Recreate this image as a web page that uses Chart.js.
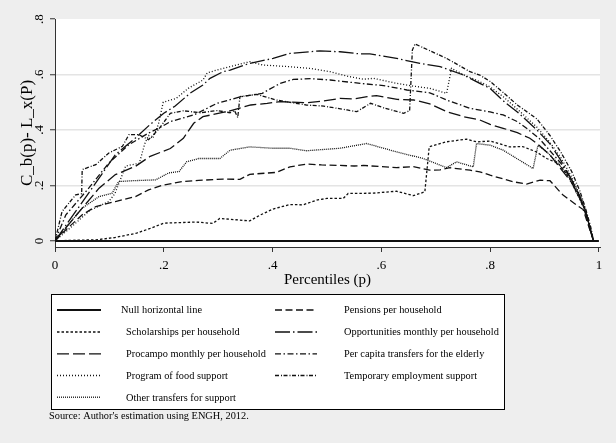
<!DOCTYPE html>
<html><head><meta charset="utf-8">
<script src="https://cdn.jsdelivr.net/npm/chart.js@4.4.1/dist/chart.umd.min.js"></script>
<style>html,body{margin:0;padding:0;background:#eeeeee;}#wrap{width:616px;height:443px;}canvas{display:block;}</style>
</head><body><div id="wrap"><canvas id="c" width="616" height="443"></canvas></div>
<script>
// ---------------- data ----------------
const xTicks = [0, 0.2, 0.4, 0.6, 0.8, 1];
const xTickLabels = ['0', '.2', '.4', '.6', '.8', '1'];
const yTicks = [0, 0.2, 0.4, 0.6, 0.8];
const yTickLabels = ['0', '.2', '.4', '.6', '.8'];
const xTitle = 'Percentiles (p)';
const yTitle = 'C_b(p)- L_x(P)';
const sourceNote = "Source: Author's estimation using ENGH, 2012.";

const seriesNames = [
  'Null horizontal line', 'Pensions per household', 'Scholarships per household',
  'Opportunities monthly per household', 'Procampo monthly per household',
  'Per capita transfers for the elderly', 'Program of food support',
  'Temporary employment support', 'Other transfers for support'
];

// [percentile, C_b(p) - L_x(p)]
const nullLine = [[0, 0], [1, 0]];
const pensions = [[0,0],[0.02,0.04],[0.05,0.094],[0.075,0.124],[0.111,0.142],[0.148,0.16],[0.172,0.184],[0.197,0.2],[0.234,0.214],[0.264,0.218],[0.309,0.223],[0.34,0.222],[0.358,0.24],[0.407,0.247],[0.432,0.267],[0.462,0.277],[0.49,0.274],[0.524,0.272],[0.55,0.27],[0.567,0.272],[0.628,0.264],[0.659,0.268],[0.689,0.255],[0.708,0.256],[0.726,0.264],[0.763,0.255],[0.781,0.249],[0.80,0.237],[0.843,0.213],[0.867,0.205],[0.892,0.219],[0.91,0.217],[0.934,0.165],[0.955,0.135],[0.971,0.113],[0.99,0]];
const scholarships = [[0,0],[0.03,0.002],[0.075,0.004],[0.11,0.012],[0.15,0.028],[0.175,0.045],[0.2,0.064],[0.26,0.068],[0.29,0.063],[0.303,0.081],[0.358,0.072],[0.377,0.093],[0.401,0.115],[0.432,0.131],[0.456,0.13],[0.481,0.147],[0.50,0.153],[0.53,0.153],[0.539,0.171],[0.585,0.172],[0.628,0.179],[0.659,0.163],[0.68,0.177],[0.688,0.339],[0.719,0.357],[0.757,0.367],[0.775,0.357],[0.80,0.36],[0.836,0.339],[0.86,0.34],[0.885,0.321],[0.904,0.297],[0.925,0.28],[0.945,0.23],[0.96,0.17],[0.975,0.11],[0.99,0]];
const opportunities = [[0,0],[0.038,0.106],[0.081,0.226],[0.111,0.311],[0.148,0.371],[0.175,0.42],[0.2,0.46],[0.221,0.486],[0.248,0.532],[0.272,0.562],[0.285,0.586],[0.309,0.61],[0.322,0.616],[0.358,0.64],[0.401,0.658],[0.432,0.676],[0.487,0.685],[0.524,0.682],[0.561,0.674],[0.579,0.674],[0.628,0.658],[0.671,0.64],[0.708,0.628],[0.751,0.598],[0.781,0.568],[0.80,0.55],[0.824,0.505],[0.85,0.465],[0.886,0.40],[0.91,0.35],[0.93,0.29],[0.95,0.22],[0.965,0.16],[0.975,0.11],[0.99,0]];
const procampo = [[0,0],[0.05,0.118],[0.081,0.19],[0.111,0.239],[0.148,0.269],[0.175,0.305],[0.212,0.333],[0.236,0.37],[0.255,0.424],[0.272,0.448],[0.316,0.466],[0.36,0.49],[0.39,0.496],[0.414,0.502],[0.463,0.498],[0.493,0.504],[0.524,0.514],[0.55,0.512],[0.574,0.52],[0.591,0.524],[0.629,0.51],[0.66,0.508],[0.689,0.494],[0.72,0.466],[0.751,0.448],[0.781,0.436],[0.80,0.42],[0.824,0.406],[0.85,0.39],[0.873,0.37],[0.89,0.345],[0.91,0.31],[0.93,0.26],[0.95,0.21],[0.965,0.155],[0.975,0.10],[0.99,0]];
const elderly = [[0,0],[0.02,0.094],[0.062,0.19],[0.099,0.281],[0.136,0.347],[0.172,0.389],[0.19,0.405],[0.212,0.43],[0.255,0.454],[0.298,0.496],[0.342,0.52],[0.381,0.532],[0.414,0.568],[0.438,0.582],[0.47,0.585],[0.506,0.58],[0.561,0.568],[0.604,0.56],[0.647,0.544],[0.689,0.534],[0.72,0.508],[0.763,0.478],[0.80,0.465],[0.824,0.454],[0.85,0.43],[0.867,0.406],[0.89,0.37],[0.91,0.325],[0.93,0.28],[0.95,0.22],[0.965,0.16],[0.975,0.11],[0.99,0]];
const foodSupport = [[0,0],[0.03,0.05],[0.064,0.11],[0.099,0.142],[0.11,0.17],[0.118,0.21],[0.13,0.27],[0.155,0.28],[0.165,0.35],[0.172,0.38],[0.18,0.37],[0.19,0.42],[0.199,0.5],[0.223,0.514],[0.245,0.55],[0.272,0.58],[0.28,0.606],[0.309,0.622],[0.358,0.646],[0.383,0.634],[0.432,0.628],[0.469,0.622],[0.506,0.61],[0.542,0.592],[0.567,0.583],[0.586,0.586],[0.628,0.568],[0.659,0.558],[0.689,0.55],[0.72,0.532],[0.729,0.622],[0.75,0.60],[0.781,0.574],[0.80,0.555],[0.824,0.52],[0.85,0.475],[0.886,0.41],[0.91,0.355],[0.93,0.30],[0.95,0.23],[0.965,0.165],[0.975,0.115],[0.99,0]];
const temporaryEmployment = [[0,0],[0.013,0.106],[0.038,0.166],[0.049,0.17],[0.05,0.257],[0.075,0.275],[0.099,0.317],[0.124,0.341],[0.136,0.383],[0.154,0.383],[0.172,0.365],[0.19,0.401],[0.212,0.46],[0.236,0.469],[0.267,0.462],[0.298,0.47],[0.322,0.462],[0.33,0.47],[0.336,0.445],[0.34,0.52],[0.371,0.528],[0.407,0.508],[0.462,0.49],[0.494,0.486],[0.537,0.472],[0.555,0.466],[0.58,0.496],[0.604,0.48],[0.641,0.46],[0.652,0.47],[0.657,0.688],[0.662,0.71],[0.72,0.658],[0.763,0.61],[0.781,0.598],[0.80,0.575],[0.824,0.535],[0.85,0.49],[0.886,0.44],[0.91,0.38],[0.93,0.32],[0.95,0.25],[0.965,0.18],[0.975,0.12],[0.985,0.05],[0.99,0]];
const otherTransfers = [[0,0],[0.025,0.06],[0.05,0.118],[0.081,0.16],[0.105,0.172],[0.117,0.214],[0.142,0.217],[0.185,0.22],[0.209,0.245],[0.228,0.25],[0.242,0.285],[0.264,0.297],[0.303,0.297],[0.322,0.327],[0.358,0.339],[0.4,0.334],[0.432,0.334],[0.462,0.325],[0.524,0.334],[0.573,0.351],[0.628,0.321],[0.677,0.297],[0.72,0.264],[0.738,0.285],[0.769,0.267],[0.775,0.351],[0.80,0.345],[0.824,0.327],[0.879,0.261],[0.888,0.345],[0.904,0.321],[0.925,0.28],[0.945,0.23],[0.96,0.17],[0.975,0.11],[0.99,0]];

// ---------------- styles ----------------
const FONT = '"Liberation Serif", "Times New Roman", serif';
const INK = '#111111';
const seriesData = [nullLine, pensions, scholarships, opportunities, procampo, elderly, foodSupport, temporaryEmployment, otherTransfers];
const seriesDash = [[], [7, 3.5], [2.5, 2], [15, 3, 1.5, 3], [12, 4], [6, 2.5, 1.5, 2.5], [1, 2], [4, 2, 1, 1.5], [1, 1]];
const seriesWidth = [2, 1.3, 1.3, 1.3, 1.3, 1.3, 1.3, 1.3, 1.3];

const datasets = seriesData.map((arr, i) => ({
  label: seriesNames[i],
  data: arr.map(([x, y]) => ({ x, y })),
  borderColor: INK,
  borderWidth: seriesWidth[i],
  borderDash: seriesDash[i],
  pointRadius: 0,
  fill: false,
  tension: 0
}));

// legend slots: [dataset index, column, row]
const legendSlots = [[0,0,0],[2,0,1],[4,0,2],[6,0,3],[8,0,4],[1,1,0],[3,1,1],[5,1,2],[7,1,3]];

function narrowText(ctx, text, x, y, sx) {
  ctx.save();
  ctx.translate(x, y);
  ctx.scale(sx, 1);
  ctx.fillText(text, 0, 0);
  ctx.restore();
}

const framePlugin = {
  id: 'frame',
  beforeDraw(chart) {
    const { ctx, chartArea: a } = chart;
    ctx.save();
    ctx.fillStyle = '#eeeeee';
    ctx.fillRect(0, 0, chart.width, chart.height);
    ctx.fillStyle = '#ffffff';
    ctx.fillRect(a.left, a.top, a.right - a.left, a.bottom - a.top);
    ctx.restore();
  },
  afterDraw(chart) {
    const { ctx } = chart;
    ctx.save();
    const bx = 51.5, by = 294.5, bw = 453, bh = 115;
    ctx.fillStyle = '#ffffff';
    ctx.fillRect(bx, by, bw, bh);
    ctx.strokeStyle = '#000';
    ctx.lineWidth = 1;
    ctx.setLineDash([]);
    ctx.strokeRect(bx, by, bw, bh);
    const rowY = [310, 332, 353.8, 375.5, 397.2];
    const colSample = [[57, 101], [275, 317]];
    const colText = [126, 344];
    ctx.font = '11px ' + FONT;
    ctx.fillStyle = '#000';
    ctx.textBaseline = 'middle';
    ctx.textAlign = 'left';
    legendSlots.forEach(([di, col, row]) => {
      const ds = chart.data.datasets[di];
      const y = rowY[row];
      ctx.beginPath();
      ctx.setLineDash(ds.borderDash);
      ctx.lineWidth = ds.borderWidth;
      ctx.strokeStyle = INK;
      ctx.moveTo(colSample[col][0], y);
      ctx.lineTo(colSample[col][1], y);
      ctx.stroke();
      ctx.setLineDash([]);
      const tx = (di === 0) ? 121 : colText[col];
      narrowText(ctx, ds.label, tx, y + 0.5, 0.94);
    });
    ctx.font = '11px ' + FONT;
    narrowText(ctx, sourceNote, 49, 416, 0.94);
    ctx.restore();
  }
};

new Chart(document.getElementById('c'), {
  type: 'line',
  data: { datasets },
  plugins: [framePlugin],
  options: {
    responsive: false,
    animation: false,
    devicePixelRatio: 1,
    layout: { padding: { left: 0, top: 19, right: 16, bottom: 150 } },
    plugins: { legend: { display: false }, tooltip: { enabled: false } },
    scales: {
      x: {
        type: 'linear', min: 0, max: 1.002,
        afterBuildTicks: s => { s.ticks = xTicks.map(v => ({ value: v })); },
        afterFit: s => { s.height = 46; },
        grid: { drawOnChartArea: false, drawTicks: true, tickLength: 5, tickColor: '#333', tickWidth: 1 },
        border: { display: true, color: '#333', width: 1 },
        ticks: { callback: (v, i) => xTickLabels[i], padding: 6, color: '#000', font: { family: FONT, size: 13 }, maxRotation: 0 },
        title: { display: true, text: xTitle, color: '#000', font: { family: FONT, size: 15 }, padding: { top: 0, bottom: 4 } }
      },
      y: {
        type: 'linear', min: -0.022, max: 0.8,
        afterBuildTicks: s => { s.ticks = yTicks.map(v => ({ value: v })); },
        afterFit: s => { s.width = 55; },
        grid: {
          color: c => (c.tick && c.tick.value > 0.01 && c.tick.value < 0.79) ? '#e4e4e4' : 'rgba(0,0,0,0)',
          lineWidth: 1.5, drawTicks: true, tickLength: 5, tickColor: '#333', tickWidth: 1
        },
        border: { display: true, color: '#333', width: 1 },
        ticks: { callback: (v, i) => yTickLabels[i], padding: 6, color: '#000', font: { family: FONT, size: 13 }, minRotation: 90, maxRotation: 90, crossAlign: 'center' },
        title: { display: true, text: yTitle, color: '#000', font: { family: FONT, size: 17 }, padding: { top: 17, bottom: 0 } }
      }
    }
  }
});
</script></body></html>
